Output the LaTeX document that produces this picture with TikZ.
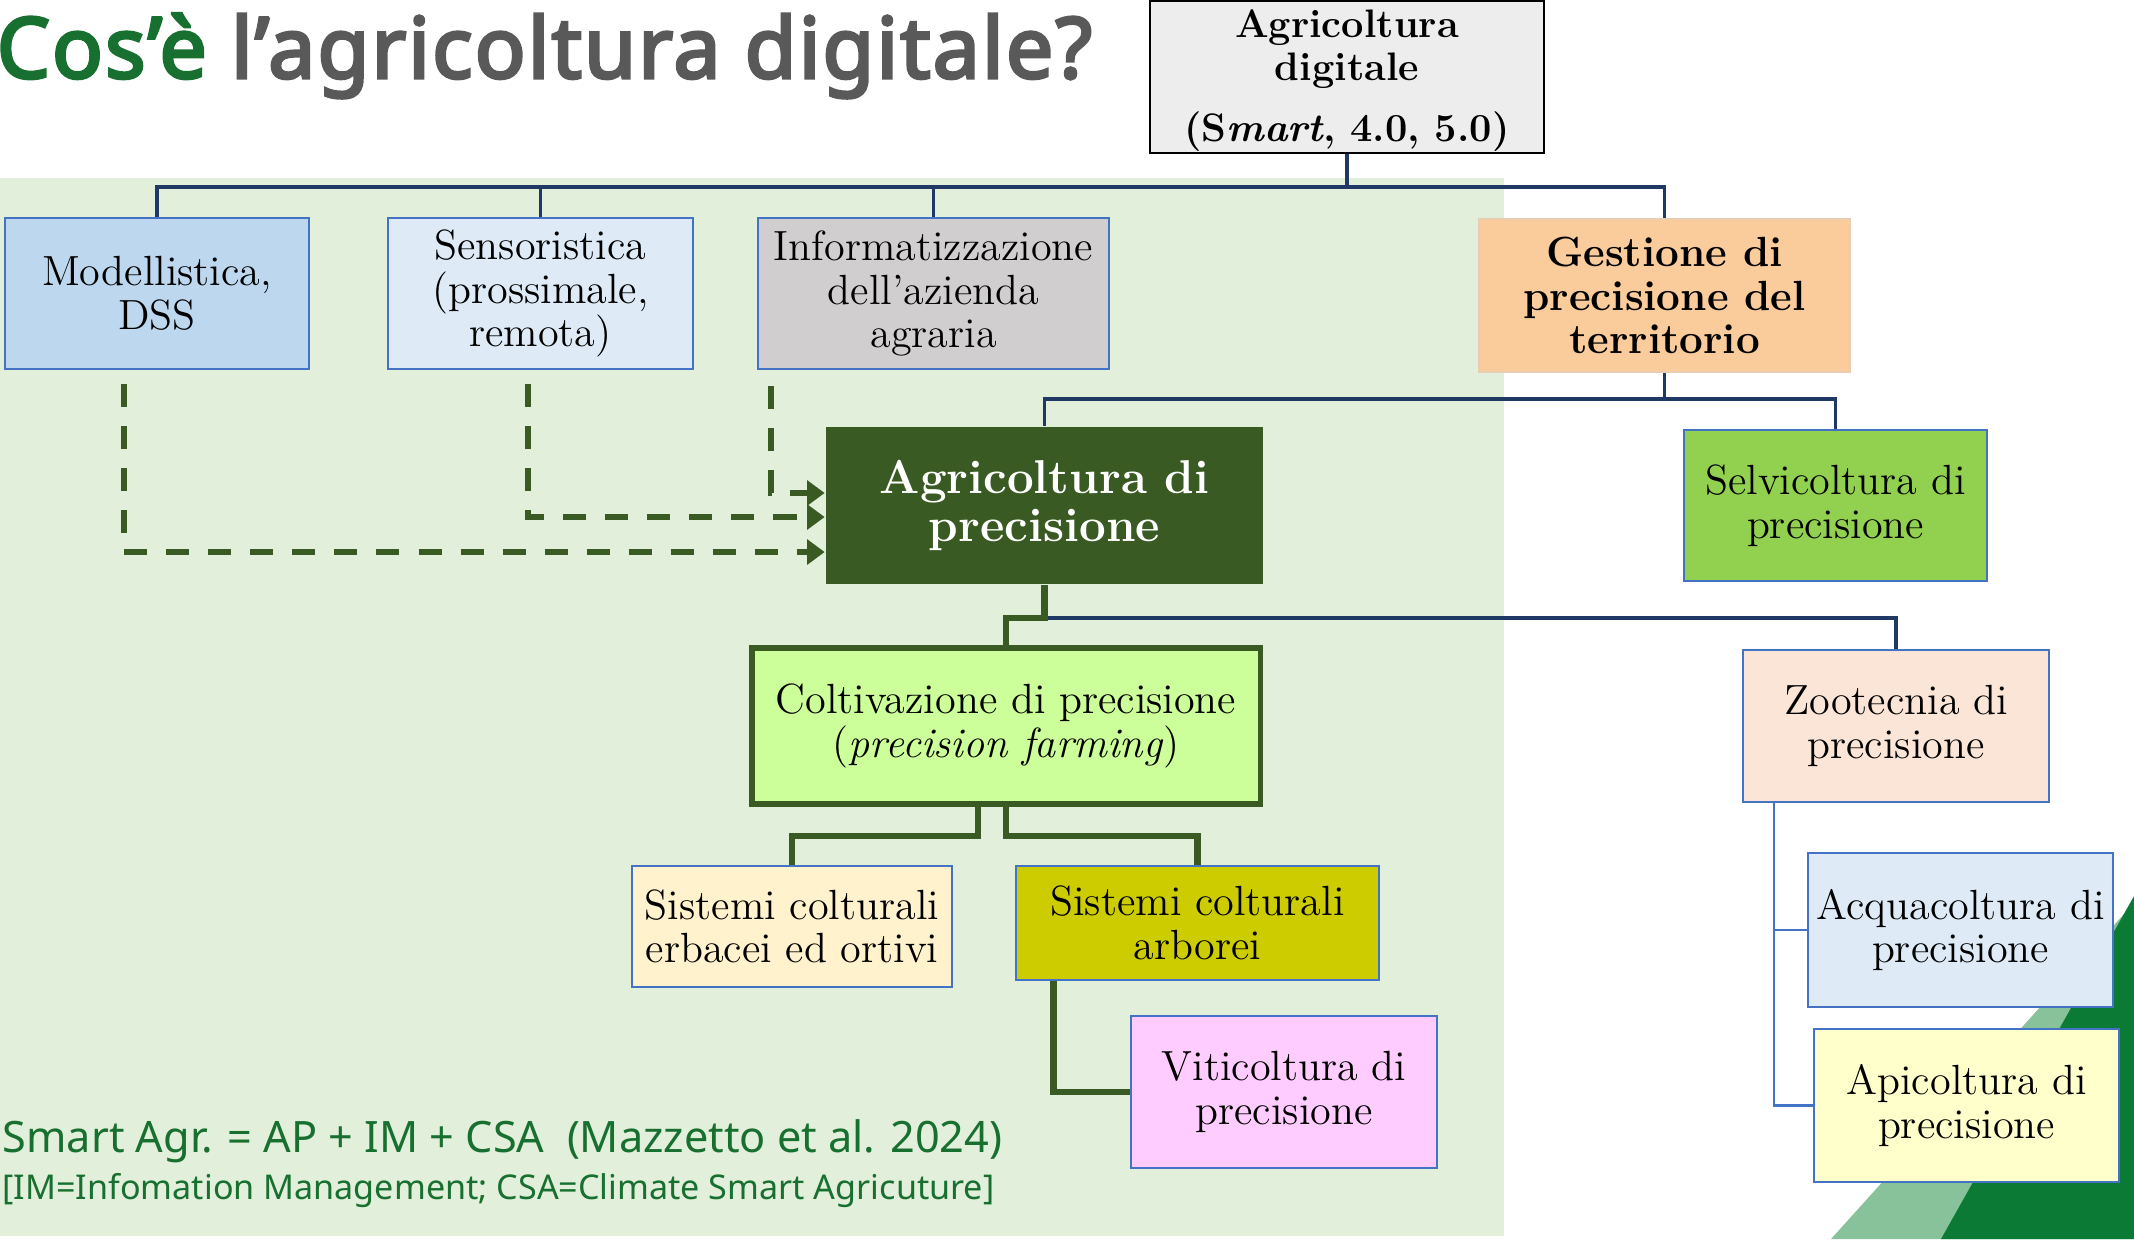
\documentclass[tikz,border=0pt]{standalone}
\usepackage{fontspec}
\usepackage{tikz}
\usetikzlibrary{arrows.meta}

\newfontfamily\notosans{Noto Sans}
\newfontfamily\notosansnero{Noto Sans}[FakeBold=3.6,LetterSpace=2.4]

\definecolor{sfondo}{HTML}{E2EFDA}
\definecolor{verdescuro}{HTML}{3A5A23}
\definecolor{verdetitolo}{HTML}{17702F}
\definecolor{grigiotitolo}{HTML}{595959}
\definecolor{blunotte}{HTML}{203864}
\definecolor{bordoblu}{HTML}{4472C4}
\definecolor{triverde}{HTML}{0A7A35}
\definecolor{trichiaro}{HTML}{88C29A}

\begin{document}
\begin{tikzpicture}[x=0.01cm,y=-0.01cm,
   scatola/.style={draw=bordoblu,line width=0.7pt,inner sep=0pt,align=center,
      font=\fontsize{12}{12.4}\selectfont},
   ramo/.style={draw=blunotte,line width=1.1pt},
   ramo verde/.style={draw=verdescuro,line width=1.8pt},
   ramo blu/.style={draw=bordoblu,line width=0.8pt},
   tratteggio/.style={draw=verdescuro,line width=1.9pt,dash pattern=on 0.23cm off 0.19cm,
      -{Triangle[length=5pt,width=7pt]}}]

  \useasboundingbox (0,0) rectangle (2134,1239);
  % sfondo e angolo
  \fill[sfondo] (0,178) rectangle (1504,1236);
  \fill[trichiaro] (2124,914) -- (1831,1239) -- (2134,1239) -- cycle;
  \fill[triverde] (2134,896) -- (1941,1239) -- (2134,1239) -- cycle;

  \node[anchor=base west,inner sep=0pt,font=\notosansnero\fontsize{24}{28}\selectfont](titolo) at (-4,78)
     {\textcolor{verdetitolo}{Cos’è} \textcolor{grigiotitolo}{l’agricoltura digitale?}};

  \node[scatola,draw=black,fill=black!7,minimum width=3.94cm,minimum height=1.52cm,
     font=\bfseries\fontsize{11.3}{12.3}\selectfont](digit) at (1347,77)
     {\rule{0pt}{10pt}Agricoltura\\digitale\\[5pt](S\textit{mart}, 4.0, 5.0)};

  \node[scatola,fill={rgb,255:red,189;green,215;blue,238},
     minimum width=3.04cm,minimum height=1.51cm](mod) at (157,293.5) {Modellistica,\\DSS};
  \node[scatola,fill={rgb,255:red,222;green,235;blue,247},
     minimum width=3.05cm,minimum height=1.51cm](sens) at (540.5,293.5) {Sensoristica\\(prossimale,\\remota)};
  \node[scatola,fill={rgb,255:red,208;green,206;blue,206},
     minimum width=3.51cm,minimum height=1.51cm](info) at (933.5,293.5) {Informatizzazione\\dell’azienda\\agraria};
  \node[scatola,draw={rgb,255:red,232;green,205;blue,178},fill={rgb,255:red,250;green,203;blue,155},
     minimum width=3.71cm,minimum height=1.53cm,font=\bfseries\fontsize{12}{12.4}\selectfont](gest)
     at (1664.5,295.5) {Gestione di\\precisione del\\territorio};

  \node[scatola,draw=none,fill=verdescuro,text=white,minimum width=4.37cm,minimum height=1.57cm,
     font=\bfseries\fontsize{13.5}{13.8}\selectfont](ap) at (1044.5,505.5) {Agricoltura di\\precisione};
  \node[scatola,fill={rgb,255:red,146;green,208;blue,80},
     minimum width=3.03cm,minimum height=1.51cm](selv) at (1835.5,505.5) {Selvicoltura di\\precisione};

  \node[scatola,draw=verdescuro,line width=1.5pt,fill={rgb,255:red,204;green,255;blue,153},
     minimum width=5.08cm,minimum height=1.56cm](coltiv) at (1006,726)
     {Coltivazione di precisione\\(\textit{precision farming})};
  \node[scatola,fill={rgb,255:red,251;green,229;blue,214},
     minimum width=3.06cm,minimum height=1.52cm](zoot) at (1896,726) {Zootecnia di\\precisione};

  \node[scatola,fill={rgb,255:red,255;green,242;blue,204},
     minimum width=3.20cm,minimum height=1.21cm](erb) at (792,926.5) {Sistemi colturali\\erbacei ed ortivi};
  \node[scatola,fill={rgb,255:red,204;green,204;blue,0},
     minimum width=3.63cm,minimum height=1.14cm](arb) at (1197.5,923) {Sistemi colturali\\arborei};
  \node[scatola,fill={rgb,255:red,255;green,204;blue,255},
     minimum width=3.06cm,minimum height=1.52cm](viti) at (1284,1092) {Viticoltura di\\precisione};

  \node[scatola,fill={rgb,255:red,222;green,235;blue,247},
     minimum width=3.05cm,minimum height=1.54cm](acqua) at (1960.5,930) {Acquacoltura di\\precisione};
  \node[scatola,fill={rgb,255:red,255;green,255;blue,204},
     minimum width=3.05cm,minimum height=1.53cm](api) at (1966.5,1105.5) {Apicoltura di\\precisione};

  \node[anchor=base west,inner sep=0pt,text=verdetitolo,font=\notosans\fontsize{12.3}{15}\selectfont](formula)
     at (2,1152) {Smart Agr. = AP + IM + CSA\ \ (Mazzetto et al. 2024)};
  \node[anchor=base west,inner sep=0pt,text=verdetitolo,font=\notosans\fontsize{9.7}{12}\selectfont](legenda)
     at (2,1199) {[IM=Infomation Management; CSA=Climate Smart Agricuture]};

  % rami dell'albero
  \foreach \figlio in {mod,sens,info,gest} \draw[ramo] (digit.south) -- ++(0,33) -| (\figlio.north);
  \foreach \figlio in {ap,selv} \draw[ramo] (gest.south) -- ++(0,26) -| (\figlio.north);
  \draw[ramo] (ap.south) ++(0,33) -| (zoot.north);
  \draw[ramo verde] (ap.south) -- ++(0,33) -| (coltiv.north);
  \draw[ramo verde] ([xshift=-0.28cm]coltiv.south) -- ++(0,29) -| (erb.north);
  \draw[ramo verde] (coltiv.south) -- ++(0,29) -| (arb.north);
  \draw[ramo verde] ([xshift=-1.44cm]arb.south) |- (viti.west);
  \foreach \figlio in {acqua,api} \draw[ramo blu] ([xshift=-1.22cm]zoot.south) |- (\figlio.west);

  % frecce tratteggiate
  \draw[tratteggio] ([xshift=-0.33cm,yshift=-0.14cm]mod.south) |- ([yshift=-0.465cm]ap.west);
  \draw[tratteggio] ([xshift=-0.125cm,yshift=-0.14cm]sens.south) |- ([yshift=-0.115cm]ap.west);
  \draw[tratteggio] ([xshift=-1.625cm,yshift=-0.16cm]info.south) |- ([yshift=0.125cm]ap.west);
\end{tikzpicture}
\end{document}
